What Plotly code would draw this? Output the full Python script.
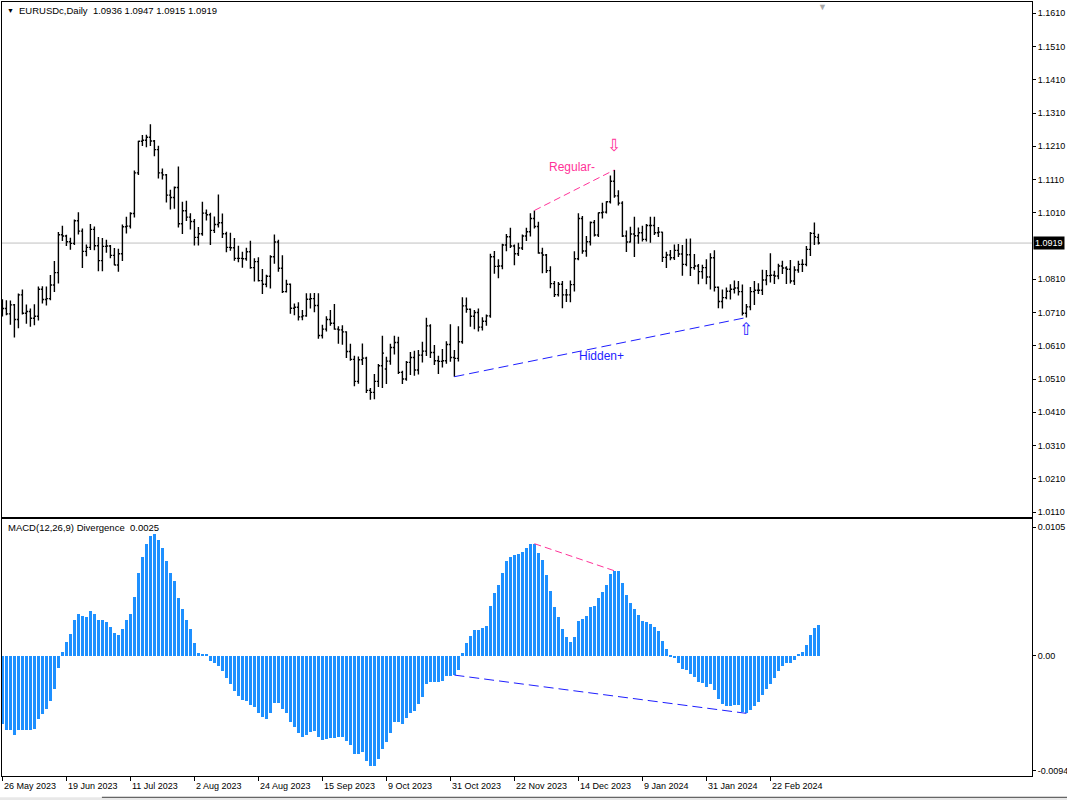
"""
EURUSDc 日线 OHLC + MACD(12,26,9) Divergence 指标图（MT4 风格）。
"""

import pandas as pd
import plotly.graph_objects as go
from plotly.subplots import make_subplots

# ---- 数据 ----
FIRST_DAY = "2023-05-26"
LAST_DAY = "2024-03-11"
HOLIDAYS = ["2023-12-25", "2024-01-01"]

opens = [
    1.0725, 1.0722, 1.0706, 1.0733, 1.0689, 1.0763, 1.0708, 1.0713, 1.0693, 1.0699,
    1.0780, 1.0749, 1.0752, 1.0793, 1.0830, 1.0944, 1.0940, 1.0923, 1.0918, 1.0986,
    1.0955, 1.0894, 1.0906, 1.0960, 1.0911, 1.0866, 1.0909, 1.0910, 1.0882, 1.0853,
    1.0887, 1.0968, 1.0970, 1.1008, 1.1130, 1.1225, 1.1228, 1.1237, 1.1226, 1.1200,
    1.1130, 1.1124, 1.1063, 1.1056, 1.1086, 1.0977, 1.1016, 1.0997, 1.0984, 1.0936,
    1.0947, 1.1009, 1.1004, 1.0957, 1.0975, 1.0980, 1.0947, 1.0906, 1.0905, 1.0873,
    1.0873, 1.0872, 1.0893, 1.0845, 1.0863, 1.0806, 1.0795, 1.0819, 1.0878, 1.0922,
    1.0843, 1.0773, 1.0795, 1.0723, 1.0726, 1.0697, 1.0700, 1.0750, 1.0752, 1.0731,
    1.0641, 1.0660, 1.0689, 1.0678, 1.0660, 1.0658, 1.0652, 1.0593, 1.0569, 1.0503,
    1.0568, 1.0573, 1.0476, 1.0470, 1.0503, 1.0550, 1.0540, 1.0564, 1.0605, 1.0620,
    1.0530, 1.0510, 1.0560, 1.0575, 1.0537, 1.0582, 1.0594, 1.0670, 1.0590, 1.0565,
    1.0563, 1.0565, 1.0614, 1.0575, 1.0572, 1.0622, 1.0730, 1.0720, 1.0699, 1.0710,
    1.0666, 1.0684, 1.0700, 1.0878, 1.0849, 1.0850, 1.0913, 1.0938, 1.0910, 1.0887,
    1.0904, 1.0940, 1.0953, 1.0993, 1.0969, 1.0889, 1.0883, 1.0836, 1.0797, 1.0764,
    1.0795, 1.0763, 1.0763, 1.0794, 1.0872, 1.0993, 1.0895, 1.0923, 1.0981, 1.0943,
    1.1010, 1.1012, 1.1043, 1.1105, 1.1061, 1.1039, 1.0940, 1.0922, 1.0946, 1.0941,
    1.0950, 1.0930, 1.0972, 1.0972, 1.0950, 1.0952, 1.0876, 1.0883, 1.0875, 1.0897,
    1.0886, 1.0855, 1.0884, 1.0845, 1.0850, 1.0833, 1.0845, 1.0817, 1.0875, 1.0786,
    1.0743, 1.0755, 1.0774, 1.0780, 1.0784, 1.0773, 1.0708, 1.0727, 1.0773, 1.0777,
    1.0777, 1.0808, 1.0821, 1.0822, 1.0820, 1.0850, 1.0844, 1.0840, 1.0805, 1.0838,
    1.0855, 1.0855, 1.0900, 1.0948, 1.0936,
]
highs = [
    1.0750, 1.0747, 1.0746, 1.0736, 1.0767, 1.0779, 1.0734, 1.0722, 1.0735, 1.0788,
    1.0789, 1.0788, 1.0823, 1.0865, 1.0952, 1.0971, 1.0944, 1.0935, 1.0990, 1.1012,
    1.0963, 1.0915, 1.0976, 1.0969, 1.0937, 1.0934, 1.0929, 1.0913, 1.0904, 1.0902,
    1.0975, 1.0998, 1.1012, 1.1137, 1.1227, 1.1244, 1.1245, 1.1276, 1.1229, 1.1212,
    1.1143, 1.1127, 1.1079, 1.1089, 1.1149, 1.1043, 1.1046, 1.1009, 1.0991, 1.0967,
    1.1043, 1.1020, 1.1010, 1.0999, 1.1065, 1.1008, 1.0953, 1.0950, 1.0934, 1.0911,
    1.0893, 1.0905, 1.0926, 1.0873, 1.0876, 1.0841, 1.0824, 1.0882, 1.0945, 1.0929,
    1.0882, 1.0809, 1.0797, 1.0737, 1.0741, 1.0718, 1.0768, 1.0768, 1.0769, 1.0768,
    1.0673, 1.0699, 1.0718, 1.0736, 1.0669, 1.0672, 1.0654, 1.0616, 1.0580, 1.0578,
    1.0617, 1.0577, 1.0483, 1.0525, 1.0555, 1.0640, 1.0577, 1.0616, 1.0640, 1.0637,
    1.0535, 1.0564, 1.0591, 1.0595, 1.0597, 1.0622, 1.0694, 1.0675, 1.0612, 1.0580,
    1.0600, 1.0624, 1.0675, 1.0597, 1.0669, 1.0756, 1.0755, 1.0722, 1.0718, 1.0722,
    1.0696, 1.0704, 1.0887, 1.0895, 1.0870, 1.0917, 1.0946, 1.0965, 1.0915, 1.0920,
    1.0945, 1.0965, 1.1009, 1.1017, 1.0983, 1.0905, 1.0886, 1.0849, 1.0805, 1.0802,
    1.0805, 1.0781, 1.0806, 1.0894, 1.1009, 1.1000, 1.0940, 1.0984, 1.0988, 1.1011,
    1.1040, 1.1045, 1.1122, 1.1139, 1.1078, 1.1045, 1.0957, 1.0968, 1.0998, 1.0966,
    1.0971, 1.0976, 1.0998, 1.0998, 1.0967, 1.0953, 1.0893, 1.0898, 1.0915, 1.0916,
    1.0913, 1.0932, 1.0933, 1.0886, 1.0856, 1.0854, 1.0870, 1.0888, 1.0897, 1.0788,
    1.0779, 1.0785, 1.0795, 1.0806, 1.0805, 1.0794, 1.0736, 1.0787, 1.0805, 1.0798,
    1.0839, 1.0838, 1.0888, 1.0836, 1.0857, 1.0866, 1.0849, 1.0868, 1.0849, 1.0866,
    1.0870, 1.0910, 1.0952, 1.0981, 1.0947,
]
lows = [
    1.0698, 1.0702, 1.0673, 1.0635, 1.0663, 1.0704, 1.0676, 1.0667, 1.0672, 1.0686,
    1.0737, 1.0731, 1.0747, 1.0772, 1.0797, 1.0925, 1.0910, 1.0899, 1.0913, 1.0945,
    1.0844, 1.0879, 1.0898, 1.0897, 1.0834, 1.0834, 1.0890, 1.0873, 1.0852, 1.0833,
    1.0865, 1.0948, 1.0963, 1.0996, 1.1124, 1.1211, 1.1207, 1.1211, 1.1180, 1.1113,
    1.1110, 1.1041, 1.1020, 1.1022, 1.0966, 1.0946, 1.0985, 1.0960, 1.0912, 1.0912,
    1.0941, 1.0987, 1.0913, 1.0949, 1.0966, 1.0934, 1.0891, 1.0896, 1.0866, 1.0861,
    1.0845, 1.0866, 1.0842, 1.0803, 1.0803, 1.0766, 1.0786, 1.0782, 1.0857, 1.0833,
    1.0769, 1.0770, 1.0706, 1.0702, 1.0686, 1.0687, 1.0697, 1.0722, 1.0711, 1.0631,
    1.0632, 1.0653, 1.0670, 1.0658, 1.0616, 1.0613, 1.0573, 1.0565, 1.0488, 1.0496,
    1.0552, 1.0468, 1.0448, 1.0449, 1.0486, 1.0483, 1.0495, 1.0553, 1.0584, 1.0525,
    1.0495, 1.0505, 1.0522, 1.0520, 1.0524, 1.0560, 1.0579, 1.0573, 1.0552, 1.0525,
    1.0545, 1.0556, 1.0562, 1.0517, 1.0563, 1.0616, 1.0709, 1.0667, 1.0660, 1.0653,
    1.0656, 1.0670, 1.0694, 1.0827, 1.0813, 1.0840, 1.0894, 1.0904, 1.0852, 1.0880,
    1.0898, 1.0925, 1.0939, 1.0963, 1.0887, 1.0828, 1.0829, 1.0783, 1.0757, 1.0758,
    1.0723, 1.0742, 1.0741, 1.0773, 1.0867, 1.0887, 1.0878, 1.0912, 1.0939, 1.0937,
    1.0993, 1.1008, 1.1038, 1.1055, 1.1032, 1.0937, 1.0892, 1.0921, 1.0877, 1.0917,
    1.0924, 1.0924, 1.0920, 1.0943, 1.0937, 1.0862, 1.0844, 1.0867, 1.0868, 1.0877,
    1.0821, 1.0849, 1.0820, 1.0839, 1.0795, 1.0812, 1.0795, 1.0779, 1.0773, 1.0723,
    1.0722, 1.0750, 1.0749, 1.0767, 1.0761, 1.0701, 1.0695, 1.0717, 1.0733, 1.0766,
    1.0763, 1.0792, 1.0800, 1.0796, 1.0810, 1.0826, 1.0796, 1.0797, 1.0793, 1.0830,
    1.0832, 1.0849, 1.0880, 1.0913, 1.0915,
]
closes = [
    1.0722, 1.0706, 1.0733, 1.0689, 1.0763, 1.0708, 1.0713, 1.0693, 1.0699, 1.0780,
    1.0749, 1.0752, 1.0793, 1.0830, 1.0944, 1.0940, 1.0923, 1.0918, 1.0986, 1.0955,
    1.0894, 1.0906, 1.0960, 1.0911, 1.0866, 1.0909, 1.0910, 1.0882, 1.0853, 1.0887,
    1.0968, 1.0970, 1.1008, 1.1130, 1.1225, 1.1228, 1.1237, 1.1226, 1.1200, 1.1130,
    1.1124, 1.1063, 1.1056, 1.1086, 1.0977, 1.1016, 1.0997, 1.0984, 1.0936, 1.0947,
    1.1009, 1.1004, 1.0957, 1.0975, 1.0980, 1.0947, 1.0906, 1.0905, 1.0873, 1.0873,
    1.0872, 1.0893, 1.0845, 1.0863, 1.0806, 1.0795, 1.0819, 1.0878, 1.0922, 1.0843,
    1.0773, 1.0795, 1.0723, 1.0726, 1.0697, 1.0700, 1.0750, 1.0752, 1.0731, 1.0641,
    1.0660, 1.0689, 1.0678, 1.0660, 1.0658, 1.0652, 1.0593, 1.0569, 1.0503, 1.0568,
    1.0573, 1.0476, 1.0470, 1.0503, 1.0550, 1.0588, 1.0564, 1.0605, 1.0620, 1.0530,
    1.0510, 1.0560, 1.0575, 1.0537, 1.0582, 1.0594, 1.0670, 1.0590, 1.0565, 1.0563,
    1.0565, 1.0614, 1.0575, 1.0572, 1.0622, 1.0730, 1.0720, 1.0699, 1.0710, 1.0666,
    1.0684, 1.0700, 1.0878, 1.0849, 1.0850, 1.0913, 1.0938, 1.0910, 1.0887, 1.0904,
    1.0940, 1.0953, 1.0993, 1.0969, 1.0889, 1.0883, 1.0836, 1.0797, 1.0764, 1.0795,
    1.0763, 1.0763, 1.0794, 1.0872, 1.0993, 1.0895, 1.0923, 1.0981, 1.0943, 1.1010,
    1.1012, 1.1043, 1.1105, 1.1061, 1.1039, 1.0940, 1.0922, 1.0946, 1.0941, 1.0950,
    1.0930, 1.0972, 1.0972, 1.0950, 1.0952, 1.0876, 1.0883, 1.0875, 1.0897, 1.0886,
    1.0855, 1.0884, 1.0845, 1.0850, 1.0833, 1.0845, 1.0817, 1.0875, 1.0786, 1.0743,
    1.0755, 1.0774, 1.0780, 1.0784, 1.0773, 1.0708, 1.0727, 1.0773, 1.0777, 1.0777,
    1.0808, 1.0821, 1.0822, 1.0820, 1.0850, 1.0844, 1.0840, 1.0805, 1.0838, 1.0855,
    1.0855, 1.0900, 1.0948, 1.0938, 1.0919,
]
macd = [
    -0.00557, -0.00606, -0.00606, -0.00647, -0.00606, -0.00606, -0.00606, -0.00606, -0.00598, -0.00519,
    -0.00476, -0.00435, -0.00367, -0.00272, -0.00101, 0.00033, 0.00114, 0.00179, 0.00291, 0.00343,
    0.00326, 0.00318, 0.00362, 0.00343, 0.00294, 0.00288, 0.00277, 0.00237, 0.00188, 0.00171,
    0.00218, 0.00288, 0.00343, 0.00481, 0.00672, 0.00808, 0.00911, 0.00979, 0.00995, 0.00943,
    0.00881, 0.00775, 0.00672, 0.00612, 0.00468, 0.00381, 0.00294, 0.00215, 0.00103, 0.00024,
    0.00016, 0.00008, -0.00046, -0.00063, -0.00087, -0.00122, -0.00185, -0.00234, -0.00291, -0.00332,
    -0.00362, -0.00367, -0.00402, -0.00421, -0.00470, -0.00503, -0.00519, -0.00470, -0.00389, -0.00389,
    -0.00438, -0.00465, -0.00538, -0.00585, -0.00633, -0.00666, -0.00650, -0.00625, -0.00612, -0.00666,
    -0.00691, -0.00677, -0.00669, -0.00669, -0.00661, -0.00661, -0.00693, -0.00726, -0.00802, -0.00802,
    -0.00788, -0.00856, -0.00903, -0.00897, -0.00846, -0.00759, -0.00707, -0.00628, -0.00538, -0.00544,
    -0.00555, -0.00511, -0.00465, -0.00449, -0.00397, -0.00340, -0.00234, -0.00218, -0.00218, -0.00218,
    -0.00204, -0.00169, -0.00163, -0.00158, -0.00114, 0.00024, 0.00106, 0.00163, 0.00212, 0.00212,
    0.00223, 0.00245, 0.00408, 0.00508, 0.00579, 0.00677, 0.00775, 0.00808, 0.00818, 0.00827,
    0.00848, 0.00878, 0.00908, 0.00914, 0.00835, 0.00780, 0.00658, 0.00530, 0.00400, 0.00318,
    0.00220, 0.00155, 0.00114, 0.00155, 0.00285, 0.00302, 0.00326, 0.00400, 0.00408, 0.00473,
    0.00522, 0.00579, 0.00669, 0.00693, 0.00693, 0.00595, 0.00498, 0.00432, 0.00383, 0.00334,
    0.00285, 0.00277, 0.00261, 0.00237, 0.00204, 0.00122, 0.00057, -0.00005, -0.00022, -0.00063,
    -0.00111, -0.00120, -0.00152, -0.00177, -0.00218, -0.00226, -0.00258, -0.00234, -0.00283, -0.00356,
    -0.00397, -0.00413, -0.00413, -0.00405, -0.00405, -0.00462, -0.00470, -0.00446, -0.00413, -0.00381,
    -0.00324, -0.00275, -0.00234, -0.00185, -0.00128, -0.00087, -0.00063, -0.00063, -0.00038, 0.00008,
    0.00033, 0.00090, 0.00171, 0.00228, 0.00253,
]

# 背离：(起点, 终点) 的 K 线序号
REGULAR_BEAR = (133, 153)
HIDDEN_BULL = (113, 186)

date_ticks = [
    "2023-05-26", "2023-06-19", "2023-07-11", "2023-08-02", "2023-08-24",
    "2023-09-15", "2023-10-09", "2023-10-31", "2023-11-22", "2023-12-14",
    "2024-01-09", "2024-01-31", "2024-02-22",
]
date_tick_text = [
    "26 May 2023", "19 Jun 2023", "11 Jul 2023", "2 Aug 2023", "24 Aug 2023",
    "15 Sep 2023", "9 Oct 2023", "31 Oct 2023", "22 Nov 2023", "14 Dec 2023",
    "9 Jan 2024", "31 Jan 2024", "22 Feb 2024",
]
# 1.0910 被当前价标签盖住，MT4 不显示
price_ticks = [
    1.1610, 1.1510, 1.1410, 1.1310, 1.1210, 1.1110, 1.1010,
    1.0810, 1.0710, 1.0610, 1.0510, 1.0410, 1.0310, 1.0210, 1.0110,
]
macd_ticks = [0.0105, 0.0, -0.0094]
macd_tick_text = ["0.0105", "0.00", "-0.0094"]

FONT = "Liberation Sans, Arial, sans-serif"
PINK = "#FF3399"
BLUE = "#1E1EFF"
HIST = "#1E90FF"

days = pd.bdate_range(FIRST_DAY, LAST_DAY)
days = days[~days.isin(pd.to_datetime(HOLIDAYS))]
dates = [d.strftime("%Y-%m-%d") for d in days]
assert len(dates) == len(closes) == len(macd)

fig = make_subplots(rows=2, cols=1, shared_xaxes=True)

fig.add_trace(
    go.Ohlc(
        x=dates, open=opens, high=highs, low=lows, close=closes,
        increasing_line_color="black", decreasing_line_color="black",
        line_width=1.4, tickwidth=0.4, hoverinfo="skip",
    ),
    row=1, col=1,
)
fig.add_trace(
    go.Bar(x=dates, y=macd, marker_color=HIST, marker_line_width=0,
           width=0.75, hoverinfo="skip"),
    row=2, col=1,
)

# 背离虚线
for (a, b), series, row, color, dash in [
    (REGULAR_BEAR, highs, 1, PINK, "7px,4px"),
    (HIDDEN_BULL, lows, 1, BLUE, "10px,5px"),
    (REGULAR_BEAR, macd, 2, PINK, "7px,4px"),
    (HIDDEN_BULL, macd, 2, BLUE, "10px,5px"),
]:
    fig.add_trace(
        go.Scatter(x=[dates[a], dates[b]], y=[series[a], series[b]], mode="lines",
                   line={"color": color, "width": 1, "dash": dash}, hoverinfo="skip"),
        row=row, col=1,
    )

# 当前价水平线
fig.add_shape(type="line", xref="x domain", x0=0, x1=1, yref="y",
              y0=closes[-1], y1=closes[-1], line={"color": "#C0C0C0", "width": 1},
              layer="below")

annotations = [
    # 左上标题
    dict(xref="paper", yref="paper", x=0.003, y=1, xanchor="left", yanchor="middle",
         yshift=-8, text="▼", showarrow=False, font={"size": 7, "color": "black"}),
    dict(xref="paper", yref="paper", x=0.015, y=1, xanchor="left", yanchor="middle",
         yshift=-8, showarrow=False, font={"size": 9.5, "color": "black", "family": FONT},
         text="EURUSDc,Daily  " + " ".join(f"{v:.4f}" for v in
                                          (opens[-1], highs[-1], lows[-1], closes[-1]))),
    dict(xref="paper", yref="y2", x=0.004, y=0.0105, xanchor="left", yanchor="middle",
         showarrow=False, font={"size": 9.5, "color": "black", "family": FONT},
         text=f"MACD(12,26,9) Divergence  {macd[-1]:.4f}"),
    # 平移标记
    dict(xref="paper", yref="paper", x=0.7965, y=1, xanchor="center", yanchor="top",
         yshift=2, text="▼", showarrow=False, font={"size": 9, "color": "#A8A8A8"}),
    # 当前价标签
    dict(xref="paper", yref="y", x=1, y=closes[-1], xanchor="left", yanchor="middle",
         xshift=1, text=f"{closes[-1]:.4f}", showarrow=False, bgcolor="black",
         borderpad=1, font={"size": 9, "color": "white", "family": FONT}),
    # 背离文字与箭头
    dict(xref="x", yref="y", x=142.5, y=1.1147, text="Regular-", showarrow=False,
         font={"size": 12, "color": PINK, "family": FONT}),
    dict(xref="x", yref="y", x=149.75, y=1.0579, text="Hidden+", showarrow=False,
         font={"size": 12, "color": BLUE, "family": FONT}),
    dict(xref="x", yref="y", x=dates[REGULAR_BEAR[1]], y=highs[REGULAR_BEAR[1]],
         yshift=25, text="⇩", showarrow=False,
         font={"size": 17, "color": PINK, "family": "DejaVu Sans"}),
    dict(xref="x", yref="y", x=dates[HIDDEN_BULL[1]], y=lows[HIDDEN_BULL[1]],
         yshift=-11, text="⇧", showarrow=False,
         font={"size": 17, "color": BLUE, "family": "DejaVu Sans"}),
]
# 底部日期标签（左对齐到刻度）
for d, t in zip(date_ticks, date_tick_text):
    annotations.append(
        dict(xref="x2", yref="paper", x=d, y=0, xanchor="left", yanchor="top",
             yshift=-3, text=t, showarrow=False,
             font={"size": 9, "color": "black", "family": FONT})
    )

x_range = [-0.1, 257.4]
axis_common = dict(showgrid=False, zeroline=False, showline=True, linecolor="black",
                   linewidth=1, mirror=True)

fig.update_layout(
    width=1067, height=800,
    margin={"l": 2, "r": 35, "t": 2, "b": 24, "autoexpand": False},
    paper_bgcolor="white", plot_bgcolor="white",
    showlegend=False, hovermode=False, dragmode=False,
    font={"family": FONT, "size": 9, "color": "black"},
    annotations=annotations,
    bargap=0,
    xaxis=dict(axis_common, type="category", range=x_range, domain=[0, 1],
               showticklabels=False, ticks="", rangeslider={"visible": False}),
    xaxis2=dict(axis_common, type="category", range=x_range, domain=[0, 1],
                tickmode="array", tickvals=date_ticks, showticklabels=False,
                ticks="outside", ticklen=4, tickcolor="black"),
    yaxis=dict(axis_common, domain=[0.3346, 1], range=[1.00950, 1.16440], side="right",
               tickmode="array", tickvals=price_ticks, tickformat=".4f",
               ticks="outside", ticklen=3, tickcolor="black"),
    yaxis2=dict(axis_common, domain=[0, 0.3320], range=[-0.00981, 0.01115], side="right",
                tickmode="array", tickvals=macd_ticks, ticktext=macd_tick_text,
                ticks="outside", ticklen=3, tickcolor="black"),
)

# 底部标签栏
fig.add_shape(type="rect", xref="paper", yref="paper", x0=-0.01, x1=1.04,
              y0=-0.031, y1=-0.0275, fillcolor="#E8E8E8", line_width=0)
fig.add_shape(type="line", xref="paper", yref="paper", x0=0.097, x1=1.04,
              y0=-0.0275, y1=-0.0275, line={"color": "#404040", "width": 1})

fig.write_html(
    "out.html",
    config={"displayModeBar": False},
    post_script="document.body.style.margin='0px';",
)
